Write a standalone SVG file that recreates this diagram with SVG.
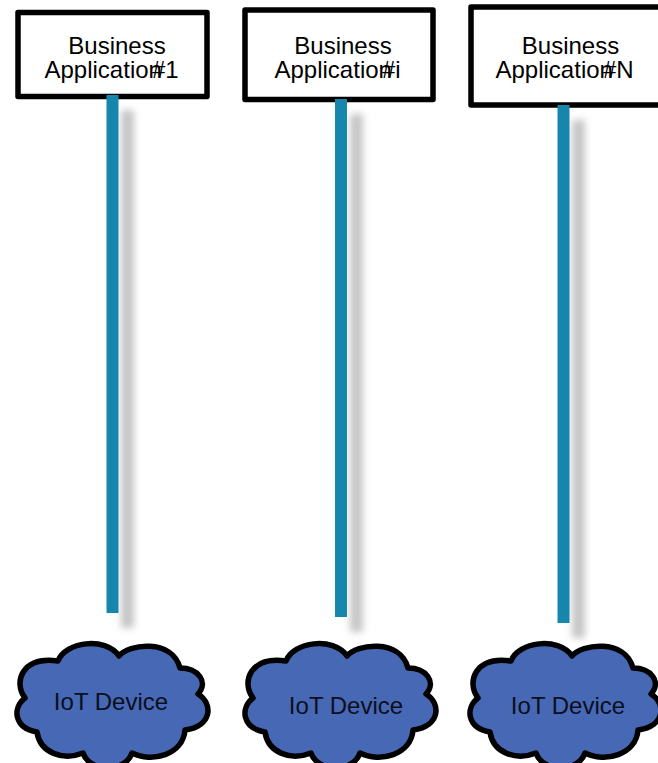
<svg xmlns="http://www.w3.org/2000/svg" width="658" height="763" viewBox="0 0 658 763">
<style>
.box{fill:#fff;stroke:#000;stroke-width:5.5;stroke-linejoin:round}
.cloud{fill:#4768b4;stroke:#000;stroke-width:5.5;stroke-linejoin:round}
.t{font-family:"Liberation Sans",Arial,sans-serif;font-size:24px;fill:#000}
.d{fill:#0a0f20}
.m{text-anchor:middle}
.c{fill:#1786ad}
.s{fill:#c6c6c6;filter:url(#blur)}
</style>
<defs>
<filter id="blur" x="-100%" y="-5%" width="300%" height="110%"><feGaussianBlur stdDeviation="3.500"/></filter>
<path id="cl" d="M58 661C65 642 105 636 119 656C128 644 172 638 180 668C198 668 209 682 198 694C213 703 213 726 185 730C183 755 152 763 132 753C125 773 90 773 83 753C63 761 40 753 37 732C14 728 12 708 25 698C13 682 22 656 58 661Z"/>
</defs>
<g id="app1"><rect class="box" x="18" y="12.500" width="189" height="84"/>
<text class="t m" x="117" y="54">Business</text>
<text class="t" x="44.500" y="78">Application<tspan dx="-10">#1</tspan></text></g>
<g id="appi"><rect class="box" x="245" y="10" width="188" height="89.500"/>
<text class="t m" x="343" y="54">Business</text>
<text class="t" x="274.500" y="78">Application<tspan dx="-10">#i</tspan></text></g>
<g id="appN"><rect class="box" x="471" y="7" width="195" height="98"/>
<text class="t m" x="570.500" y="54">Business</text>
<text class="t" x="495.500" y="78">Application<tspan dx="-10">#N</tspan></text></g>
<g id="device1"><use href="#cl" class="cloud"/><text class="t d m" x="111" y="710">IoT Device</text></g>
<g id="devicei"><use href="#cl" class="cloud" x="228"/><text class="t d m" x="346" y="714">IoT Device</text></g>
<g id="deviceN"><use href="#cl" class="cloud" x="453"/><text class="t d m" x="568" y="714">IoT Device</text></g>
<g id="connectors">
<rect class="s" x="121" y="110" width="13" height="518"/>
<rect class="s" x="350" y="114" width="13" height="518"/>
<rect class="s" x="572" y="120" width="13" height="518"/>
<rect class="c" x="106.500" y="95" width="12" height="518"/>
<rect class="c" x="335" y="99" width="12" height="518"/>
<rect class="c" x="557.500" y="105" width="12" height="518"/>
</g>
</svg>
